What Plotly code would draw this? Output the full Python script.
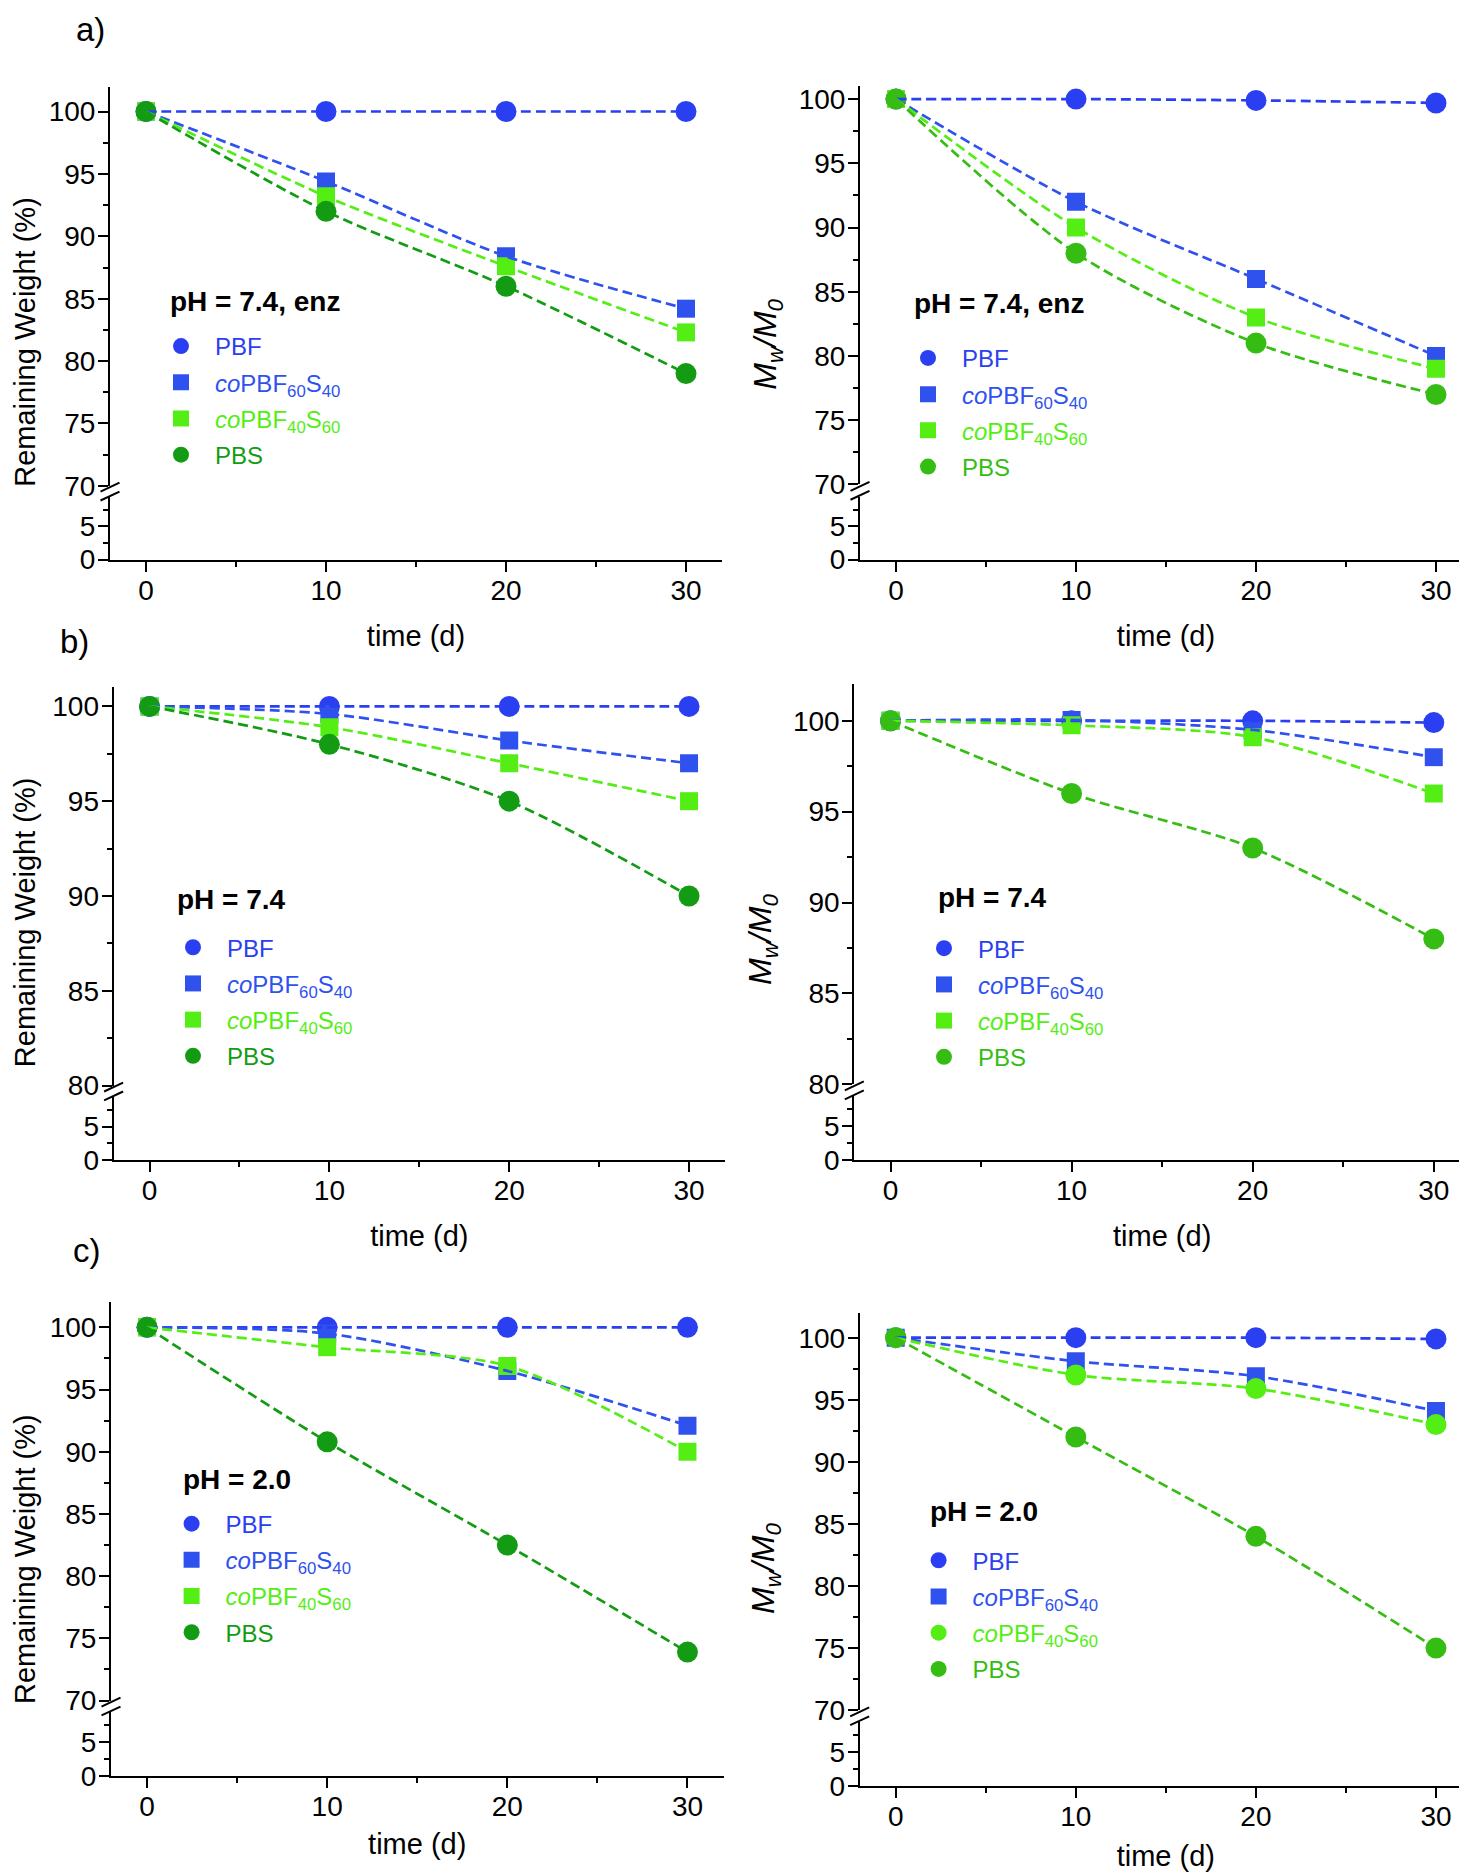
import plotly.graph_objects as go

W, H = 1467, 1874

# ---------------- data ----------------
time_d = [0, 10, 20, 30]

# a) pH = 7.4, enz
a_rw_pbf  = [100, 100, 100, 100]
a_rw_co64 = [100, 94.4, 88.4, 84.2]
a_rw_co46 = [100, 93.2, 87.6, 82.3]
a_rw_pbs  = [100, 92.0, 86.0, 79.0]
a_mw_pbf  = [100, 100.0, 99.9, 99.7]
a_mw_co64 = [100, 92.0, 86.0, 80.0]
a_mw_co46 = [100, 90.0, 83.0, 79.0]
a_mw_pbs  = [100, 88.0, 81.0, 77.0]

# b) pH = 7.4
b_rw_pbf  = [100, 100, 100, 100]
b_rw_co64 = [100, 99.6, 98.2, 97.0]
b_rw_co46 = [100, 98.9, 97.0, 95.0]
b_rw_pbs  = [100, 98.0, 95.0, 90.0]
b_mw_pbf  = [100, 100.0, 100.0, 99.9]
b_mw_co64 = [100, 100.05, 99.5, 98.0]
b_mw_co46 = [100, 99.75, 99.1, 96.0]
b_mw_pbs  = [100, 96.0, 93.0, 88.0]

# c) pH = 2.0
c_rw_pbf  = [100, 100, 100, 100]
c_rw_co64 = [100, 99.5, 96.5, 92.1]
c_rw_co46 = [100, 98.4, 96.9, 90.0]
c_rw_pbs  = [100, 90.8, 82.5, 73.9]
c_mw_pbf  = [100, 100.0, 100.0, 99.9]
c_mw_co64 = [100, 98.1, 96.9, 94.1]
c_mw_co46 = [100, 97.0, 95.9, 93.0]
c_mw_pbs  = [100, 92.0, 84.0, 75.0]

series_labels = ["PBF", "<i>co</i>PBF<sub>60</sub>S<sub>40</sub>",
                 "<i>co</i>PBF<sub>40</sub>S<sub>60</sub>", "PBS"]
panel_titles = ["pH = 7.4, enz", "pH = 7.4, enz", "pH = 7.4", "pH = 7.4", "pH = 2.0", "pH = 2.0"]
panel_letters = ["a)", "b)", "c)"]
upper_ranges = [[70, 102], [70, 101], [80, 101], [80, 102], [70, 102], [70, 102]]
lower_top = 9.4
xrange_ = [-2, 32]

BLUE1 = "#2b3ff2"
BLUE2 = "#2f52ef"
LIME = "#55ee14"
GREEN_D = "#139c13"
GREEN_M = "#36bd14"

panel_data = [
    [a_rw_pbf, a_rw_co64, a_rw_co46, a_rw_pbs],
    [a_mw_pbf, a_mw_co64, a_mw_co46, a_mw_pbs],
    [b_rw_pbf, b_rw_co64, b_rw_co46, b_rw_pbs],
    [b_mw_pbf, b_mw_co64, b_mw_co46, b_mw_pbs],
    [c_rw_pbf, c_rw_co64, c_rw_co46, c_rw_pbs],
    [c_mw_pbf, c_mw_co64, c_mw_co46, c_mw_pbs],
]
panel_colors = [
    [BLUE1, BLUE2, LIME, GREEN_D],
    [BLUE1, BLUE2, LIME, GREEN_M],
    [BLUE1, BLUE2, LIME, GREEN_D],
    [BLUE1, BLUE2, LIME, GREEN_M],
    [BLUE1, BLUE2, LIME, GREEN_D],
    [BLUE1, BLUE2, LIME, GREEN_M],
]
panel_symbols = [
    ["circle", "square", "square", "circle"],
    ["circle", "square", "square", "circle"],
    ["circle", "square", "square", "circle"],
    ["circle", "square", "square", "circle"],
    ["circle", "square", "square", "circle"],
    ["circle", "square", "circle", "circle"],
]

# ---------------- layout geometry (pixels) ----------------
geo = [
    dict(x=(102, 714), up=(77.3, 480.5), lo=(492, 555)),
    dict(x=(852, 1464), up=(77, 479), lo=(492, 555)),
    dict(x=(105.6, 717), up=(684, 1086), lo=(1098, 1161)),
    dict(x=(846.3, 1462), up=(681, 1084.7), lo=(1097, 1161)),
    dict(x=(103, 715.5), up=(1305, 1707), lo=(1719, 1783)),
    dict(x=(851.7, 1464), up=(1315.5, 1716.7), lo=(1729, 1793)),
]
title_pos = [(160, 294), (904, 296), (167, 898), (928, 896), (173, 1484), (920, 1516)]
legend_pos = [(181, 337), (928, 349), (193, 944), (944, 945), (191.6, 1526), (938.6, 1563)]
ytitle_pos = [(17, 335), (760, 338), (17, 921), (755, 939), (17, 1564), (758, 1573)]
letter_pos = [(66, 20), (50, 638), (63, 1253)]
xtitle_standoff = [20, 20, 20, 20, 12, 14]

FONT = "Arial, Liberation Sans, sans-serif"

def px_x(v):
    return v / W

def px_y(v):
    return 1 - v / H

fig = go.Figure()
layout = dict(
    width=W, height=H, margin=dict(l=0, r=0, t=0, b=0),
    paper_bgcolor="white", plot_bgcolor="white",
    font=dict(family=FONT, size=26, color="black"),
    annotations=[], shapes=[],
)

for i in range(6):
    xa = "x" if i == 0 else f"x{i+1}"
    yu = f"y{2*i+1}" if i > 0 else "y"
    yl = f"y{2*i+2}"
    leg = "legend" if i == 0 else f"legend{i+1}"
    g = geo[i]
    vals, cols, syms = panel_data[i], panel_colors[i], panel_symbols[i]

    for s in range(4):
        fig.add_trace(go.Scatter(
            x=time_d, y=vals[s], mode="markers", xaxis=xa, yaxis=yu,
            marker=dict(color=cols[s], symbol=syms[s], size=21 if syms[s] == "circle" else 18,
                        line=dict(width=0)),
            name=f'<span style="color:{cols[s]}">{series_labels[s]}</span>',
            legend=leg, legendgroup=f"p{i}s{s}", showlegend=True, hoverinfo="skip"))
    for s in range(4):
        fig.add_trace(go.Scatter(
            x=time_d, y=vals[s], mode="lines", xaxis=xa, yaxis=yu,
            line=dict(color=cols[s], width=2.7, dash="10px,5px", shape="spline", smoothing=0.8),
            showlegend=False, hoverinfo="skip"))
    fig.add_trace(go.Scatter(x=[], y=[], xaxis=xa, yaxis=yl, showlegend=False, hoverinfo="skip"))

    xkey = "xaxis" if i == 0 else f"xaxis{i+1}"
    yukey = "yaxis" if i == 0 else f"yaxis{2*i+1}"
    ylkey = f"yaxis{2*i+2}"
    common_line = dict(showline=True, linewidth=2, linecolor="black", showgrid=False,
                       zeroline=False, ticks="outside", ticklen=10, tickwidth=2,
                       tickcolor="black", tickfont=dict(size=28, family=FONT))
    layout[xkey] = dict(
        domain=[px_x(g["x"][0]), px_x(g["x"][1])], range=xrange_, anchor=yl,
        tickmode="linear", tick0=0, dtick=10, ticklabelstandoff=-5,
        minor=dict(dtick=5, ticklen=5, tickwidth=2, ticks="outside", tickcolor="black"),
        title=dict(text="time (d)", font=dict(size=29, family=FONT), standoff=xtitle_standoff[i]),
        **common_line)
    ymin = dict(dtick=2.5, ticklen=5, tickwidth=2, ticks="outside", tickcolor="black")
    layout[yukey] = dict(
        domain=[px_y(g["up"][1]), px_y(g["up"][0])], range=upper_ranges[i], anchor=xa,
        tickmode="linear", tick0=0, dtick=5, ticklabelstandoff=-3, minor=ymin, **common_line)
    layout[ylkey] = dict(
        domain=[px_y(g["lo"][1]), px_y(g["lo"][0])], range=[0, lower_top], anchor=xa,
        tickmode="linear", tick0=0, dtick=5, ticklabelstandoff=-3, minor=ymin, **common_line)

    lx, ly = legend_pos[i]
    layout[leg] = dict(
        x=px_x(lx - 42), y=px_y(ly - 20), xanchor="left", yanchor="top",
        bgcolor="rgba(0,0,0,0)", borderwidth=0, itemwidth=58,
        font=dict(size=24, family=FONT), tracegroupgap=2, traceorder="grouped")

    tx, ty = title_pos[i]
    layout["annotations"].append(dict(
        text=f"<b>{panel_titles[i]}</b>", x=px_x(tx), y=px_y(ty), xref="paper", yref="paper",
        xanchor="left", yanchor="middle", showarrow=False, font=dict(size=28, family=FONT, color="black")))

    yx, yy = ytitle_pos[i]
    ytxt = "Remaining Weight (%)" if i % 2 == 0 else "<i>M<sub>w</sub>/M<sub>0</sub></i>"
    layout["annotations"].append(dict(
        text=ytxt, x=px_x(yx), y=px_y(yy), xref="paper", yref="paper", textangle=-90,
        xanchor="center", yanchor="middle", showarrow=False,
        font=dict(size=29 if i % 2 == 0 else 32, family=FONT, color="black")))

    ax = g["x"][0]
    yb = (g["up"][1] + g["lo"][0]) / 2
    for dy in (-4.5, 4.5):
        layout["shapes"].append(dict(
            type="line", xref="paper", yref="paper",
            x0=px_x(ax - 9.5), y0=px_y(yb + dy + 4.5), x1=px_x(ax + 9.5), y1=px_y(yb + dy - 4.5),
            line=dict(color="black", width=2)))

for k, (lx, ly) in enumerate(letter_pos):
    layout["annotations"].append(dict(
        text=panel_letters[k], x=px_x(lx), y=px_y(ly), xref="paper", yref="paper",
        xanchor="left", yanchor="middle", showarrow=False, font=dict(size=33, family=FONT, color="black")))

fig.update_layout(**layout)
fig.write_html("out.html")
